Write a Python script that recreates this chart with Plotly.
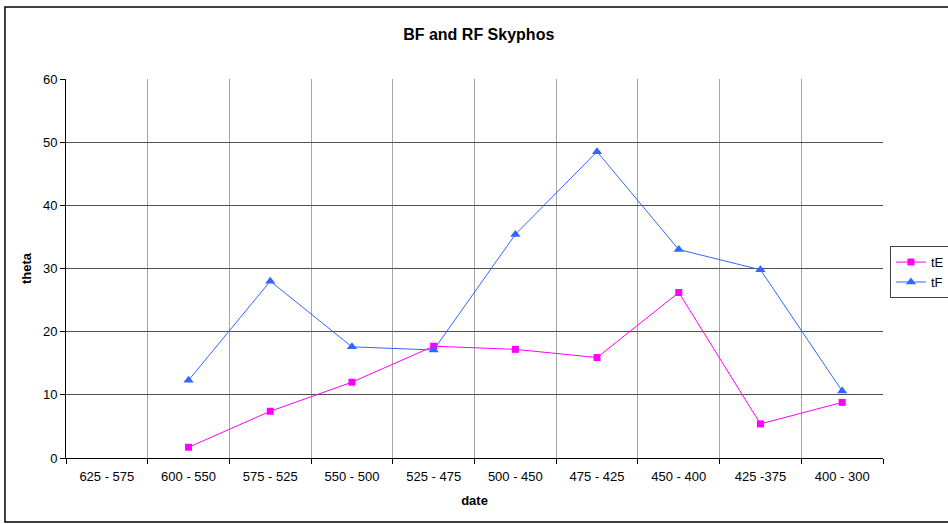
import plotly.graph_objects as go

# Defining the data:
dates = ["625 - 575", "600 - 550", "575 - 525", "550 - 500", "525 - 475",
         "500 - 450", "475 - 425", "450 - 400", "425 -375", "400 - 300"]
tE = [None, 1.7, 7.4, 12.0, 17.7, 17.2, 15.9, 26.2, 5.4, 8.8]
tF = [None, 12.3, 28.0, 17.6, 17.1, 35.4, 48.5, 33.0, 29.8, 10.6]

font = "Liberation Sans, Arial, sans-serif"

fig = go.Figure()
fig.add_trace(go.Scatter(x=dates, y=tE, name="tE", mode="lines+markers",
                         line=dict(color="#ff00ff", width=1),
                         marker=dict(symbol="square", size=7, color="#ff00ff")))
fig.add_trace(go.Scatter(x=dates, y=tF, name="tF", mode="lines+markers",
                         line=dict(color="#3366ff", width=1),
                         marker=dict(symbol="triangle-up", size=9, color="#3366ff")))

# Customizing chart layout:
fig.update_layout(
    width=948, height=524, paper_bgcolor="white", plot_bgcolor="white",
    margin=dict(l=66, r=65, t=79, b=66, autoexpand=False),
    font=dict(family=font, size=13, color="black"),
    title=dict(text="<b>BF and RF Skyphos</b>", x=0.505, xanchor="center",
               y=0.935, yanchor="middle", font=dict(size=16)),
    showlegend=True,
    legend=dict(x=1.0085, xanchor="left", y=0.559, yanchor="top",
                bordercolor="#404040", borderwidth=1, font=dict(size=13),
                tracegroupgap=0, itemwidth=30),
    shapes=[dict(type="rect", xref="paper", yref="paper",
                 x0=-0.0747, x1=1.1, y0=-0.169, y1=1.19,
                 line=dict(color="black", width=1.5), layer="below")],
)
fig.update_xaxes(type="category", categoryorder="array", categoryarray=dates,
                 range=[-0.5, 9.5], tickson="boundaries", ticks="outside",
                 ticklen=5, tickcolor="black", showgrid=True, gridcolor="#a6a6a6",
                 gridwidth=1, showline=True, linecolor="black", linewidth=1,
                 automargin=False, ticklabelstandoff=6,
                 title=dict(text="<b>date</b>", font=dict(size=13), standoff=13),
                 tickfont=dict(size=13))
fig.update_yaxes(range=[0, 60], dtick=10, ticks="outside", ticklen=5,
                 tickcolor="black", showgrid=True, gridcolor="#505050", gridwidth=1.3,
                 showline=True, linecolor="black", linewidth=1, zeroline=False,
                 automargin=False,
                 title=dict(text="<b>theta</b>", font=dict(size=13), standoff=8),
                 tickfont=dict(size=13))

fig.write_html("out.html", config={"displayModeBar": False},
               post_script="document.body.style.margin='0';")
